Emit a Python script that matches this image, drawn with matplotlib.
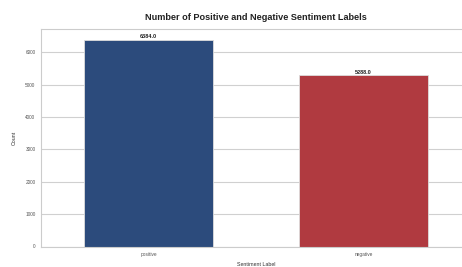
import matplotlib
matplotlib.use("Agg")
import matplotlib.pyplot as plt
import seaborn as sns

labels = ["positive", "negative"]
counts = [6384, 5288]
colors = ["#2c4b7c", "#b03a40"]

sns.set_style("whitegrid")
plt.rcParams['font.family'] = ['Liberation Sans', 'DejaVu Sans']

fig = plt.figure(figsize=(4.62, 2.67), dpi=100)
# the axes runs past the right edge of the canvas, like the cropped original
ax = fig.add_axes([41 / 462, 20.5 / 267, 430 / 462, 217.5 / 267])

bars = ax.bar(labels, counts, width=0.6, color=colors, edgecolor="#dddddd", linewidth=0.6)
for b in bars:
    ax.annotate(f"{b.get_height():.1f}", (b.get_x() + b.get_width() / 2, b.get_height()),
                ha="center", va="bottom", fontsize=4, fontweight="bold", color="#222222",
                xytext=(0, 0.5), textcoords="offset points")

ax.set_xlim(-0.5, 1.5)
ax.set_ylim(0, max(counts) * 1.053)
ax.set_title("Number of Positive and Negative Sentiment Labels", fontsize=6.6,
             fontweight="bold", pad=6.5, color="#222222")
ax.set_xlabel("Sentiment Label", fontsize=3.8, color="#333333", labelpad=3.5)
ax.set_ylabel("Count", fontsize=3.8, color="#333333", labelpad=6)
ax.tick_params(axis="both", labelsize=3.4, colors="#555555", length=0, pad=4)
ax.grid(axis="y", color="#d0d0d0", linewidth=0.8)
ax.grid(axis="x", visible=False)
for s in ax.spines.values():
    s.set_color("#cccccc")
    s.set_linewidth(0.8)

fig.savefig("out.png", dpi=100)
